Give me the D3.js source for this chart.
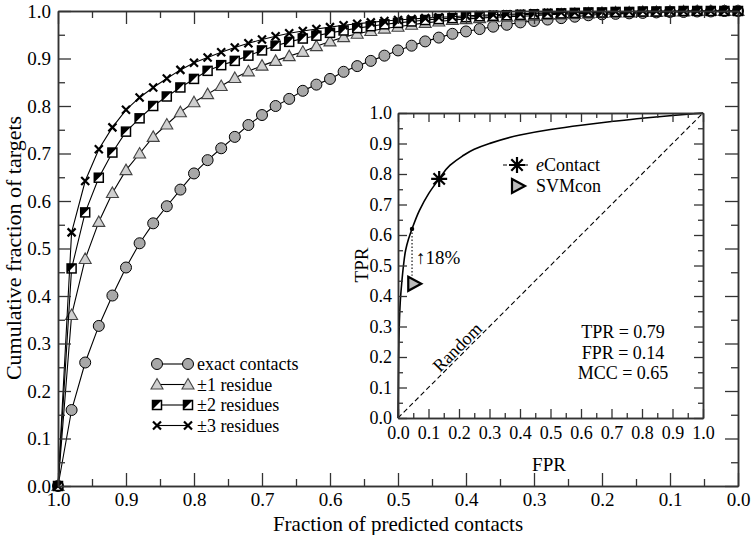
<!DOCTYPE html>
<html><head><meta charset="utf-8">
<script src="https://cdn.jsdelivr.net/npm/d3@7"></script>
<style>body{margin:0;background:#fff}svg{display:block}text{font-family:"Liberation Serif","Times New Roman",serif;fill:#000}</style>
</head><body><svg id="c" width="754" height="535"></svg>
<script>
// ---------- data ----------
const fraction = [1.00,0.98,0.96,0.94,0.92,0.90,0.88,0.86,0.84,0.82,0.80,0.78,0.76,0.74,0.72,0.70,0.68,0.66,0.64,0.62,0.60,0.58,0.56,0.54,0.52,0.50,0.48,0.46,0.44,0.42,0.40,0.38,0.36,0.34,0.32,0.30,0.28,0.26,0.24,0.22,0.20,0.18,0.16,0.14,0.12,0.10,0.08,0.06,0.04,0.02,0.00];
const exactContacts = [0,0.160,0.260,0.337,0.401,0.460,0.511,0.553,0.589,0.624,0.658,0.686,0.711,0.735,0.760,0.781,0.800,0.815,0.832,0.845,0.857,0.872,0.884,0.895,0.906,0.917,0.927,0.936,0.944,0.952,0.957,0.962,0.967,0.971,0.976,0.979,0.982,0.985,0.988,0.991,0.993,0.994,0.995,0.996,0.997,0.998,0.998,0.999,0.999,1.0,1.0];
const residue1 = [0,0.360,0.478,0.556,0.617,0.665,0.700,0.735,0.761,0.787,0.808,0.825,0.842,0.859,0.873,0.885,0.895,0.905,0.914,0.926,0.936,0.945,0.952,0.958,0.963,0.967,0.971,0.975,0.978,0.981,0.983,0.985,0.987,0.988,0.989,0.990,0.992,0.993,0.994,0.995,0.996,0.997,0.997,0.998,0.998,0.999,0.999,1.0,1.0,1.0,1.0];
const residue2 = [0,0.458,0.576,0.649,0.702,0.746,0.774,0.800,0.820,0.839,0.857,0.874,0.886,0.895,0.906,0.917,0.927,0.935,0.942,0.948,0.954,0.959,0.964,0.968,0.972,0.975,0.978,0.981,0.983,0.985,0.987,0.989,0.990,0.991,0.992,0.993,0.994,0.995,0.996,0.997,0.997,0.998,0.998,0.999,0.999,0.999,1.0,1.0,1.0,1.0,1.0];
const residue3 = [0,0.534,0.642,0.709,0.755,0.792,0.818,0.839,0.858,0.876,0.891,0.902,0.913,0.923,0.932,0.940,0.947,0.953,0.958,0.962,0.966,0.970,0.973,0.976,0.979,0.981,0.983,0.985,0.987,0.988,0.990,0.991,0.992,0.993,0.994,0.995,0.996,0.997,0.997,0.998,0.998,0.999,0.999,1.0,1.0,1.0,1.0,1.0,1.0,1.0,1.0];
const seriesNames = ["exact contacts","\u00b11 residue","\u00b12 residues","\u00b13 residues"];
const mainTicks = [0,0.1,0.2,0.3,0.4,0.5,0.6,0.7,0.8,0.9,1.0];
const minorTicks = [0.05,0.15,0.25,0.35,0.45,0.55,0.65,0.75,0.85,0.95];

const rocFPR = [0,0.002,0.005,0.008,0.012,0.018,0.025,0.034,0.046,0.07,0.1,0.135,0.17,0.21,0.25,0.3,0.4,0.5,0.6,0.7,0.8,0.9,1.0];
const rocTPR = [0,0.2,0.33,0.39,0.44,0.50,0.55,0.585,0.62,0.68,0.735,0.784,0.828,0.858,0.881,0.900,0.928,0.946,0.960,0.972,0.983,0.992,1.0];
const eContact = {name:"eContact", fpr:0.135, tpr:0.784};
const svmcon = {name:"SVMcon", fpr:0.05, tpr:0.44};
const refPoint = {fpr:0.046, tpr:0.62};
const stats = ["TPR = 0.79","FPR = 0.14","MCC = 0.65"];
const gainLabel = "\u219118%";

// ---------- main chart ----------
const svg = d3.select("#c");
const X0=58, X1=738, Y0=486, Y1=11;
const x = d3.scaleLinear().domain([1,0]).range([X0,X1]);
const y = d3.scaleLinear().domain([0,1]).range([Y0,Y1]);
const fmt = d3.format(".1f");
const AX = "#333";

function styleAxis(g, fs){
  g.select(".domain").attr("stroke",AX).attr("stroke-width",1.5);
  g.selectAll(".tick line").attr("stroke",AX).attr("stroke-width",1.3);
  g.selectAll("text").attr("font-size",fs).attr("fill","#000");
}
function frame(xs, ys, big, small, fs, padX, padY){
  const [a,b]=xs.range(), [c,d]=ys.range();
  const g = svg.append("g");
  g.append("g").attr("transform",`translate(0,${c})`).call(d3.axisBottom(xs).tickValues(mainTicks).tickFormat(fmt).tickSize(-big).tickPadding(padX).tickSizeOuter(0)).call(s=>styleAxis(s,fs));
  g.append("g").attr("transform",`translate(0,${c})`).call(d3.axisBottom(xs).tickValues(minorTicks).tickFormat("").tickSize(-small).tickSizeOuter(0)).call(s=>styleAxis(s,fs));
  g.append("g").attr("transform",`translate(0,${d})`).call(d3.axisTop(xs).tickValues(mainTicks).tickFormat("").tickSize(-big).tickSizeOuter(0)).call(s=>styleAxis(s,fs));
  g.append("g").attr("transform",`translate(0,${d})`).call(d3.axisTop(xs).tickValues(minorTicks).tickFormat("").tickSize(-small).tickSizeOuter(0)).call(s=>styleAxis(s,fs));
  g.append("g").attr("transform",`translate(${a},0)`).call(d3.axisLeft(ys).tickValues(mainTicks).tickFormat(fmt).tickSize(-big).tickPadding(padY).tickSizeOuter(0)).call(s=>styleAxis(s,fs));
  g.append("g").attr("transform",`translate(${a},0)`).call(d3.axisLeft(ys).tickValues(minorTicks).tickFormat("").tickSize(-small).tickSizeOuter(0)).call(s=>styleAxis(s,fs));
  g.append("g").attr("transform",`translate(${b},0)`).call(d3.axisRight(ys).tickValues(mainTicks).tickFormat("").tickSize(-big).tickSizeOuter(0)).call(s=>styleAxis(s,fs));
  g.append("g").attr("transform",`translate(${b},0)`).call(d3.axisRight(ys).tickValues(minorTicks).tickFormat("").tickSize(-small).tickSizeOuter(0)).call(s=>styleAxis(s,fs));
  return g;
}

const series = [exactContacts,residue1,residue2,residue3];
const line = d3.line().x(d=>x(d[0])).y(d=>y(d[1]));

function marker(g, kind){
  if(kind===0){ g.append("circle").attr("r",5.5).attr("fill","#a8a8a8").attr("stroke","#000").attr("stroke-width",1); }
  else if(kind===1){ g.append("path").attr("d","M0,-6L6,4.5L-6,4.5Z").attr("fill","#d0d0d0").attr("stroke","#444").attr("stroke-width",1.1); }
  else if(kind===2){
    g.append("rect").attr("x",-4.5).attr("y",-4.5).attr("width",9).attr("height",9).attr("fill","#fff").attr("stroke","#000").attr("stroke-width",1.5);
    g.append("path").attr("d","M-4.5,4.5L-4.5,-4.5L4.5,-4.5Z").attr("fill","#000");
  } else {
    g.append("path").attr("d","M-4,-4L4,4M-4,4L4,-4").attr("stroke","#000").attr("stroke-width",2.2).attr("fill","none");
  }
}

const plot = svg.append("g");
series.forEach((vals,k)=>{
  const pts = fraction.map((f,i)=>[f,vals[i]]);
  plot.append("path").datum(pts).attr("d",line).attr("fill","none").attr("stroke","#000").attr("stroke-width",1.1);
  pts.forEach(p=>{ const m=plot.append("g").attr("transform",`translate(${x(p[0])},${y(p[1])})`); marker(m,k); });
});

frame(x,y,13,7,19,7,7);

// legend
seriesNames.forEach((n,k)=>{
  const ly = 364 + k*20.5;
  const g = svg.append("g");
  g.append("line").attr("x1",157).attr("x2",188).attr("y1",ly).attr("y2",ly).attr("stroke","#000").attr("stroke-width",1.1);
  marker(g.append("g").attr("transform",`translate(157,${ly})`),k);
  marker(g.append("g").attr("transform",`translate(188,${ly})`),k);
  g.append("text").attr("x",197).attr("y",ly+6).attr("font-size",18).text(n);
});

svg.append("text").attr("x",398).attr("y",531).attr("text-anchor","middle").attr("font-size",21).text("Fraction of predicted contacts");
svg.append("text").attr("transform","translate(21,248) rotate(-90)").attr("text-anchor","middle").attr("font-size",22).text("Cumulative fraction of targets");

// ---------- inset ----------
const ix = d3.scaleLinear().domain([0,1]).range([398,703]);
const iy = d3.scaleLinear().domain([0,1]).range([418,113]);
svg.append("rect").attr("x",398).attr("y",113).attr("width",305).attr("height",305).attr("fill","#fff");
const ins = svg.append("g");
ins.append("line").attr("x1",ix(0)).attr("y1",iy(0)).attr("x2",ix(1)).attr("y2",iy(1)).attr("stroke","#000").attr("stroke-width",1.1).attr("stroke-dasharray","5,3");
ins.append("path").datum(rocFPR.map((f,i)=>[f,rocTPR[i]])).attr("d",d3.line().x(d=>ix(d[0])).y(d=>iy(d[1])).curve(d3.curveMonotoneY)).attr("fill","none").attr("stroke","#000").attr("stroke-width",1.6);
frame(ix,iy,9,5,18,8,6);

function asterisk(g){
  g.append("path").attr("d","M0,-8L0,8M-8,0L8,0M-5.7,-5.7L5.7,5.7M-5.7,5.7L5.7,-5.7").attr("stroke","#000").attr("stroke-width",2.2);
}
function rtri(g){
  g.append("path").attr("d","M-5,-7L8,0L-5,7Z").attr("fill","#bbb").attr("stroke","#000").attr("stroke-width",2.2).attr("stroke-linejoin","miter");
}
ins.append("line").attr("x1",ix(refPoint.fpr)).attr("x2",ix(refPoint.fpr)).attr("y1",iy(refPoint.tpr)).attr("y2",iy(svmcon.tpr)-8).attr("stroke","#000").attr("stroke-width",1.1).attr("stroke-dasharray","1.5,2");
ins.append("circle").attr("cx",ix(refPoint.fpr)).attr("cy",iy(refPoint.tpr)).attr("r",2.2).attr("fill","#000");
asterisk(ins.append("g").attr("transform",`translate(${ix(eContact.fpr)},${iy(eContact.tpr)})`));
rtri(ins.append("g").attr("transform",`translate(${ix(svmcon.fpr)},${iy(svmcon.tpr)})`));
ins.append("text").attr("x",416).attr("y",264).attr("font-size",19).text(gainLabel);

// inset legend
ins.append("line").attr("x1",503).attr("x2",531).attr("y1",165).attr("y2",165).attr("stroke","#000").attr("stroke-width",1.1).attr("stroke-dasharray","4,3");
asterisk(ins.append("g").attr("transform","translate(517,165)"));
const t1 = ins.append("text").attr("x",536).attr("y",171).attr("font-size",18);
t1.append("tspan").attr("font-style","italic").text("e");
t1.append("tspan").text("Contact");
rtri(ins.append("g").attr("transform","translate(517,186)"));
ins.append("text").attr("x",536).attr("y",192).attr("font-size",18).text(svmcon.name);

stats.forEach((s,i)=>ins.append("text").attr("x",623).attr("y",338+i*20.5).attr("text-anchor","middle").attr("font-size",18).text(s));

ins.append("text").attr("transform",`translate(457,347) rotate(-45)`).attr("text-anchor","middle").attr("dy","0.35em").attr("font-size",18).text("Random");
ins.append("text").attr("x",549).attr("y",471).attr("text-anchor","middle").attr("font-size",19).text("FPR");
ins.append("text").attr("transform","translate(368,265) rotate(-90)").attr("text-anchor","middle").attr("font-size",19).text("TPR");
</script></body></html>
